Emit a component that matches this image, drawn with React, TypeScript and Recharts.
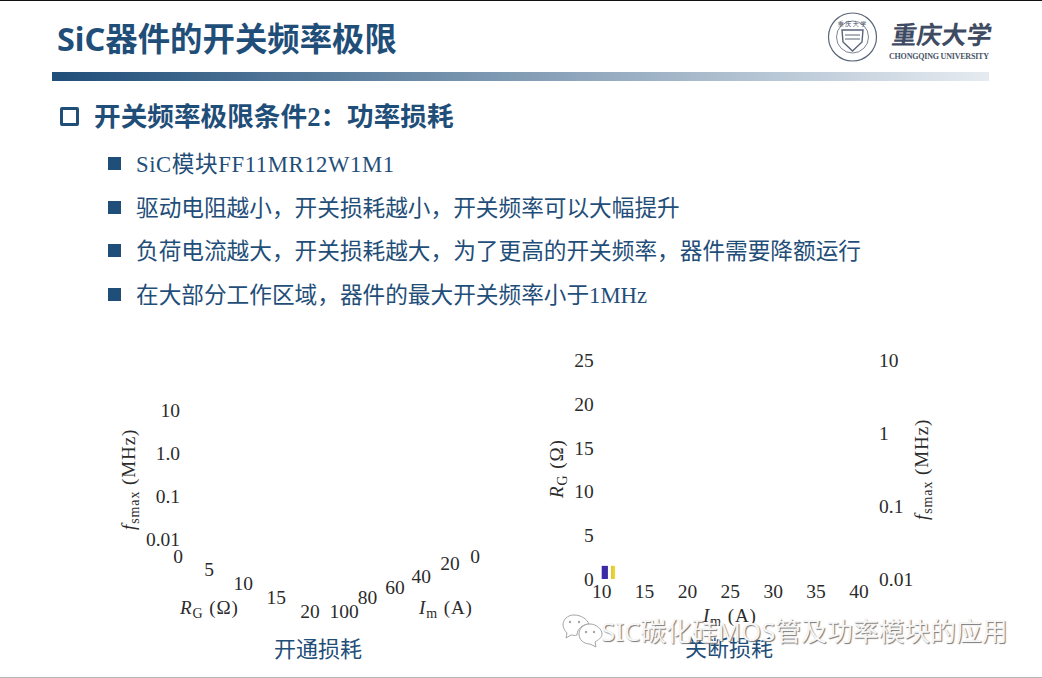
/**
 * SiC device switching frequency limit slide, only the tick labels and two
 * small bars of the original plots are visible.
 */

import React from 'react';
import { ComposedChart, ScatterChart, Scatter, Bar, XAxis, YAxis, LabelList, Cell } from 'recharts';

// left plot, 3D axes
const freqTicks = [0.01, 0.1, 1, 10];
const freqTickText = ['0.01', '0.1', '1.0', '10'];
const rgTicks = [0, 5, 10, 15, 20];
const rgAcross = [0, 4.7, 9.9, 14.9, 20];
const rgDepth = [0, 4.7, 9.9, 15, 20];
const imTicks = [0, 20, 40, 60, 80, 100];
const imAcross = [0, 19, 41, 61, 82, 100];
const imDepth = [0, 13, 36, 56, 75, 100];

// right plot
const currentTicks = [10, 15, 20, 25, 30, 35, 40];
const resistanceTicks = [0, 5, 10, 15, 20, 25];
const freqRightText = ['0.01', '0.1', '1', '10'];
const barCurrents = [10.35, 11.35];
const barResistances = [1.5, 1.5];

const bullets = [
  'SiC模块FF11MR12W1M1',
  '驱动电阻越小，开关损耗越小，开关频率可以大幅提升',
  '负荷电流越大，开关损耗越大，为了更高的开关频率，器件需要降额运行',
  '在大部分工作区域，器件的最大开关频率小于1MHz',
];
const bulletTops = [157, 201, 244, 288];

const NAVY = '#1f4e79';
const INK = '#2b2b2b';
const SERIF = '"Liberation Serif", "Noto Sans CJK SC", serif';
const SANS = '"Noto Sans", "Noto Sans CJK SC", sans-serif';
const tickStyle = { fill: INK, fontSize: 19.5, fontFamily: SERIF };

const barRows = barCurrents.map((x, i) => ({ x, value: barResistances[i] }));

const abs = (left: number, top: number): React.CSSProperties => ({ position: 'absolute', left, top });

// diagonal axis of the 3D plot: labels sit on invisible points
const DiagonalTicks = ({ ticks, across, depth, x0, x1, y0, y1, reversed }: any) => {
  const pad = 24;
  const rows = ticks.map((t: number, i: number) => ({ a: across[i], d: depth[i], label: String(t) }));
  const maxT = Math.max(...ticks);
  return (
    <div style={abs(x0 - pad, y0 - pad)}>
      <ScatterChart
        width={x1 - x0 + pad * 2}
        height={y1 - y0 + pad * 2}
        margin={{ top: pad, right: pad, bottom: pad, left: pad }}
      >
        <XAxis type="number" dataKey="a" domain={[0, maxT]} reversed={reversed} hide />
        <YAxis type="number" dataKey="d" domain={[0, maxT]} reversed hide />
        <Scatter data={rows} fill="none" isAnimationActive={false}>
          <LabelList dataKey="label" position="center" style={tickStyle} />
        </Scatter>
      </ScatterChart>
    </div>
  );
};

const BarShape = (props: any) => {
  const { x, y, width, height, index } = props;
  const center = x + width / 2;
  const w = index === 0 ? 7 : 4;
  return <rect x={center - w / 2} y={y} width={w} height={height} fill={props.fill} />;
};

const Logo = () => (
  <svg width={175} height={60} style={abs(825, 7)}>
    <g fill="none" stroke="#5a6478">
      <circle cx={27.5} cy={30} r={24} strokeWidth={1.2} />
      <circle cx={27.5} cy={30} r={16} strokeWidth={0.8} />
      <path d="M17 23 L38 23 L37 35 L27.5 44 L18 35 Z" strokeWidth={1.4} />
      <path d="M20 28 L35 28 M20 32 L35 32" strokeWidth={1} />
    </g>
    <text x={27} y={19} textAnchor="middle" fontSize={6} fill="#4a5568" fontFamily={SANS}>重 庆 大 学</text>
    <text x={65} y={37} fontSize={25} fontWeight={700} fill="#3f4b63" fontFamily={SANS} transform="translate(6 0) skewX(-8)">重庆大学</text>
    <text x={64} y={52} fontSize={8} fontWeight={700} fill="#4a5568" fontFamily={SERIF} textLength={100}>CHONGQING UNIVERSITY</text>
  </svg>
);

export default function App() {
  return (
    <div style={{ position: 'fixed', inset: 0, background: '#fff', overflow: 'hidden' }}>
      <div style={{ ...abs(0, 0), width: 1042, height: 1, background: '#111' }} />

      <div style={{ ...abs(57, 15), fontFamily: SANS, fontSize: 32.4, fontWeight: 700, color: NAVY, lineHeight: '46px', whiteSpace: 'nowrap' }}>
        SiC器件的开关频率极限
      </div>
      <Logo />
      <div style={{ ...abs(52, 72), width: 937, height: 9, background: 'linear-gradient(90deg, #1f4e79, #e6ebf1)' }} />

      <div style={{ ...abs(60, 107), width: 13, height: 13, border: `3px solid ${NAVY}`, borderRadius: 2 }} />
      <div style={{ ...abs(94, 98), fontFamily: SERIF, fontSize: 26.65, fontWeight: 700, color: NAVY, lineHeight: '38px', whiteSpace: 'nowrap' }}>
        开关频率极限条件2：功率损耗
      </div>

      {bullets.map((b, i) => (
        <React.Fragment key={i}>
          <div style={{ ...abs(108, bulletTops[i]), width: 13, height: 13, background: NAVY }} />
          <div style={{ ...abs(136, bulletTops[i] - 8), fontFamily: SERIF, fontSize: 22.67, color: NAVY, lineHeight: '32px', whiteSpace: 'nowrap', letterSpacing: i === 0 ? 0.6 : 0 }}>
            {b}
          </div>
        </React.Fragment>
      ))}

      {/* left plot: frequency axis */}
      <div style={abs(100, 390)}>
        <ComposedChart
          width={100}
          height={170}
          data={[{ x: 0 }]}
          margin={{ top: 20, right: 0, bottom: 21, left: 0 }}
        >
          <XAxis dataKey="x" hide />
          <YAxis
            scale="log"
            domain={[0.01, 10]}
            ticks={freqTicks}
            interval={0}
            width={88}
            axisLine={false}
            tickLine={false}
            tickSize={0}
            tickMargin={8}
            tick={tickStyle}
            tickFormatter={(v: number) => freqTickText[freqTicks.indexOf(v)]}
            allowDataOverflow
          />
        </ComposedChart>
      </div>
      <DiagonalTicks ticks={rgTicks} across={rgAcross} depth={rgDepth} x0={178} x1={310} y0={556} y1={611} />
      <DiagonalTicks ticks={imTicks} across={imAcross} depth={imDepth} x0={344} x1={475} y0={556} y1={611} reversed />

      {/* right plot */}
      <div style={abs(540, 340)}>
        <ComposedChart
          width={400}
          height={300}
          data={barRows}
          margin={{ top: 20, right: 0, bottom: 0, left: 0 }}
        >
          <defs>
            <linearGradient id="barGold" x1="0" y1="0" x2="1" y2="0">
              <stop offset="0%" stopColor="#d8c24a" />
              <stop offset="100%" stopColor="#f7dc1c" />
            </linearGradient>
          </defs>
          <XAxis
            type="number"
            dataKey="x"
            domain={[10, 40]}
            ticks={currentTicks}
            interval={0}
            height={61}
            axisLine={false}
            tickLine={false}
            tickSize={0}
            tickMargin={5}
            tick={tickStyle}
            allowDataOverflow
          />
          <YAxis
            yAxisId="rg"
            domain={[0, 25]}
            ticks={resistanceTicks}
            interval={0}
            width={61.7}
            axisLine={false}
            tickLine={false}
            tickSize={0}
            tickMargin={8}
            tick={tickStyle}
          />
          <YAxis
            yAxisId="freq"
            orientation="right"
            scale="log"
            domain={[0.01, 10]}
            ticks={freqTicks}
            interval={0}
            width={81}
            axisLine={false}
            tickLine={false}
            tickSize={0}
            tickMargin={20}
            tick={tickStyle}
            tickFormatter={(v: number) => freqRightText[freqTicks.indexOf(v)]}
            allowDataOverflow
          />
          <Bar yAxisId="rg" dataKey="value" barSize={6} shape={BarShape} isAnimationActive={false}>
            <Cell fill="#3a2aa6" />
            <Cell fill="url(#barGold)" />
          </Bar>
        </ComposedChart>
      </div>

      {/* axis titles */}
      <svg width={1042} height={678} style={{ ...abs(0, 0), pointerEvents: 'none' }}>
        <g fontFamily={SERIF} fontSize={19} fill={INK} letterSpacing={0.9}>
          <text transform="translate(135 530) rotate(-90)">
            <tspan fontStyle="italic">f</tspan>
            <tspan fontSize={14} dy={4}>smax</tspan>
            <tspan dy={-4}> (MHz)</tspan>
          </text>
          <text x={180} y={614}>
            <tspan fontStyle="italic">R</tspan>
            <tspan fontSize={14} dy={4}>G</tspan>
            <tspan dy={-4}> (Ω)</tspan>
          </text>
          <text x={419} y={614}>
            <tspan fontStyle="italic">I</tspan>
            <tspan fontSize={14} dy={4}>m</tspan>
            <tspan dy={-4}> (A)</tspan>
          </text>
          <text transform="translate(563 498) rotate(-90)">
            <tspan fontStyle="italic">R</tspan>
            <tspan fontSize={14} dy={4}>G</tspan>
            <tspan dy={-4}> (Ω)</tspan>
          </text>
          <text x={703} y={622}>
            <tspan fontStyle="italic">I</tspan>
            <tspan fontSize={14} dy={4}>m</tspan>
            <tspan dy={-4}> (A)</tspan>
          </text>
          <text transform="translate(928 520) rotate(-90)">
            <tspan fontStyle="italic">f</tspan>
            <tspan fontSize={14} dy={4}>smax</tspan>
            <tspan dy={-4}> (MHz)</tspan>
          </text>
        </g>
        <g fontFamily={SANS} fontSize={22} fill={NAVY} textAnchor="middle">
          <text x={318} y={657}>开通损耗</text>
          <text x={729} y={656}>关断损耗</text>
        </g>
      </svg>

      <div style={{ ...abs(0, 677), width: 1042, height: 1, background: '#b5b5b5' }} />

      {/* watermark */}
      <svg width={44} height={36} style={abs(560, 613)} fill="#fff" stroke="#a5a5a5" strokeWidth={1}>
        <path d="M14 2 C7 2 3 7 3 12 C3 15 5 18 7 20 L6 25 L11 22 C13 22 15 23 17 22 C17 16 23 11 29 11 C27 6 21 2 14 2 Z" />
        <path d="M30 11 C23 11 19 16 19 21 C19 27 24 31 30 31 L36 34 L35 29 C38 27 42 25 42 21 C42 16 36 11 30 11 Z" />
        <circle cx={10} cy={9} r={1.2} fill="#a5a5a5" stroke="none" />
        <circle cx={19} cy={9} r={1.2} fill="#a5a5a5" stroke="none" />
        <circle cx={26} cy={19} r={1.2} fill="#a5a5a5" stroke="none" />
        <circle cx={34} cy={19} r={1.2} fill="#a5a5a5" stroke="none" />
      </svg>
      <div style={{ ...abs(601, 613), fontFamily: SANS, fontSize: 25.8, color: '#f6f6f6', lineHeight: '36px', whiteSpace: 'nowrap', textShadow: '1px 1px 1px #777' }}>
        SIC碳化硅MOS管及功率模块的应用
      </div>
    </div>
  );
}
